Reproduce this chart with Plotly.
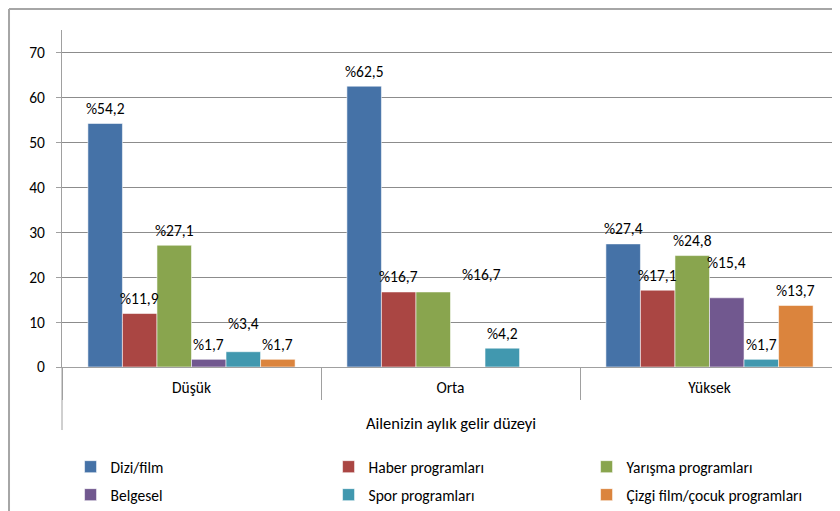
import plotly.graph_objects as go

categories = ["Düşük", "Orta", "Yüksek"]
series_names = ["Dizi/film", "Haber programları", "Yarışma programları",
                "Belgesel", "Spor programları", "Çizgi film/çocuk programları"]
dizi = [54.2, 62.5, 27.4]
haber = [11.9, 16.7, 17.1]
yarisma = [27.1, 16.7, 24.8]
belgesel = [1.7, None, 15.4]
spor = [3.4, 4.2, 1.7]
cizgi = [1.7, None, 13.7]
values = [dizi, haber, yarisma, belgesel, spor, cizgi]
colors = ["#4572A7", "#AA4643", "#89A54E", "#71588F", "#4198AF", "#DB843D"]
x_title = "Ailenizin aylık gelir düzeyi"
y_ticks = [0, 10, 20, 30, 40, 50, 60, 70]

FONT = "Carlito, Lato, sans-serif"
FS = 15.5
BARGAP = 0.2

fig = go.Figure()
for i, (name, vals, col) in enumerate(zip(series_names, values, colors)):
    fig.add_trace(go.Bar(
        x=categories, y=vals, name=name,
        marker=dict(color=col, line=dict(color="rgba(255,255,255,0.55)", width=1)),
        legend="legend" if i < 3 else "legend2",
    ))

# data labels (special nudges replicate the manual label positions of the original)
nudges = {(4, 0): (0, 13), (3, 2): (0, 20), (2, 1): (48, 2)}
w = (1 - BARGAP) / len(series_names)
annotations = []
for si, vals in enumerate(values):
    for ci, v in enumerate(vals):
        if v is None:
            continue
        dx, dy = nudges.get((si, ci), (0, 0))
        annotations.append(dict(
            x=ci + (si - 2.5) * w, y=v, xref="x", yref="y",
            text="%" + f"{v:.1f}".replace(".", ","),
            showarrow=False, yanchor="middle", yshift=15 + dy, xshift=dx,
            font=dict(family=FONT, size=FS, color="#000000"),
        ))

annotations.append(dict(
    x=0.5, y=-0.166, xref="paper", yref="paper", text=x_title, showarrow=False,
    yanchor="middle", font=dict(family=FONT, size=16.5, color="#000000"),
))

shapes = [
    # chart-area border (top and left visible)
    dict(type="line", xref="paper", yref="paper", x0=-0.0682, x1=1.02, y0=1.062, y1=1.062,
         line=dict(color="#A6A6A6", width=2)),
    dict(type="line", xref="paper", yref="paper", x0=-0.0682, x1=-0.0682, y0=1.062, y1=-0.45,
         line=dict(color="#A6A6A6", width=2)),
    # outer category level dividers
    dict(type="line", xref="paper", yref="paper", x0=0, x1=0, y0=0, y1=-0.187,
         line=dict(color="#A0A0A0", width=1)),
    dict(type="line", xref="paper", yref="paper", x0=1, x1=1, y0=0, y1=-0.187,
         line=dict(color="#A0A0A0", width=1)),
]

legend_common = dict(orientation="h", x=0.011, xanchor="left", yanchor="middle",
                     entrywidth=213, entrywidthmode="pixels",
                     font=dict(family=FONT, size=FS), itemclick=False,
                     traceorder="normal", bgcolor="rgba(0,0,0,0)")

# the page body adds an 8px offset; the figure is sized so the drawing lands where the original is
fig.update_layout(
    width=832, height=503,
    margin=dict(l=54, r=1, t=22, b=144, autoexpand=False),
    paper_bgcolor="white", plot_bgcolor="white",
    barmode="group", bargap=BARGAP, bargroupgap=0,
    font=dict(family=FONT, size=FS, color="#000000"),
    annotations=annotations, shapes=shapes,
    xaxis=dict(
        type="category", showline=True, linecolor="#A0A0A0", linewidth=1,
        ticks="outside", tickson="boundaries", ticklen=32, tickcolor="#A0A0A0",
        showgrid=False, tickfont=dict(family=FONT, size=FS), fixedrange=True,
        automargin=False, ticklabelstandoff=6,
    ),
    yaxis=dict(
        range=[0, 75], tickvals=y_ticks, showline=True, linecolor="#A0A0A0", linewidth=1,
        ticks="outside", ticklen=5, tickcolor="#A0A0A0",
        showgrid=True, gridcolor="#8C8C8C", gridwidth=1, zeroline=False,
        tickfont=dict(family=FONT, size=FS), ticklabelstandoff=8, automargin=False,
    ),
    legend=dict(legend_common, y=-0.297),
    legend2=dict(legend_common, y=-0.38),
)

fig.write_html("out.html")
